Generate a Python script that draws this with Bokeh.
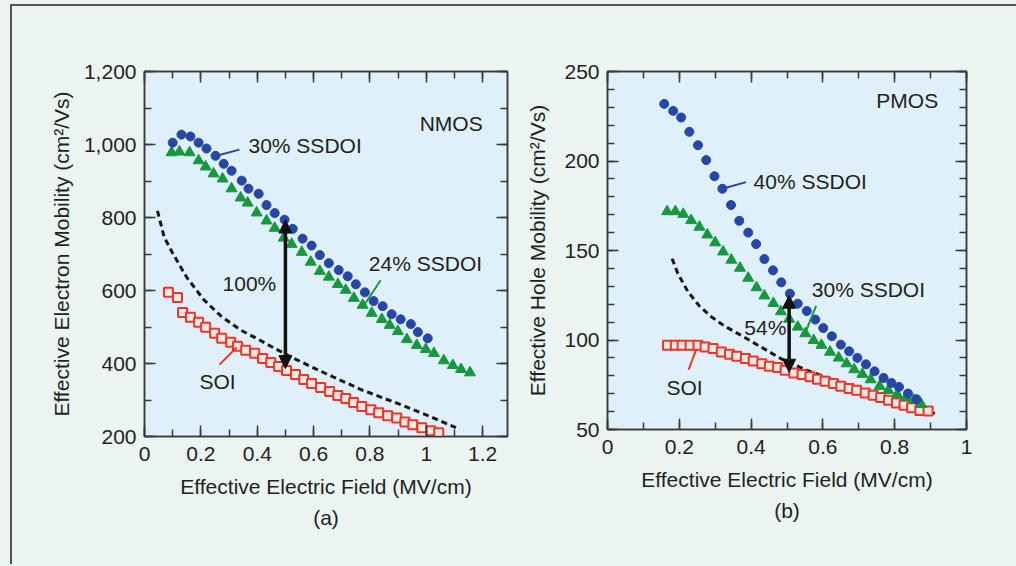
from bokeh.plotting import figure
from bokeh.models import Range1d, LinearAxis, FixedTicker, Label, Arrow, NormalHead, Title
from bokeh.embed import file_html
from bokeh.resources import INLINE

FONT = "Liberation Sans"
TXT = "#231f20"
BG = "#eaf4f0"
PLOT_BG = "#dff0fa"
BLUE = "#2747a6"
GREEN = "#16983f"
RED = "#ee3528"
FS = "21px"

# ---------------- NMOS (a) ----------------
n_ss30_x = [0.100, 0.131, 0.163, 0.192, 0.220, 0.252, 0.281, 0.309, 0.345, 0.369, 0.405, 0.433, 0.462, 0.497, 0.526,
            0.561, 0.593, 0.622, 0.654, 0.689, 0.721, 0.750, 0.782, 0.813, 0.845, 0.877, 0.909, 0.945, 0.970, 1.005]
n_ss30_y = [1005, 1027, 1022, 1005, 989, 969, 947, 928, 901, 879, 865, 834, 812, 794, 769,
            742, 723, 697, 675, 656, 639, 617, 595, 571, 557, 535, 521, 508, 486, 469]
n_ss24_x = [0.096, 0.124, 0.160, 0.192, 0.217, 0.245, 0.277, 0.309, 0.341, 0.366, 0.398, 0.433, 0.462, 0.494, 0.522,
            0.558, 0.590, 0.622, 0.654, 0.686, 0.714, 0.743, 0.774, 0.806, 0.842, 0.870, 0.899, 0.931, 0.966, 0.998,
            1.027, 1.062, 1.094, 1.123, 1.155]
n_ss24_y = [978, 980, 978, 956, 939, 920, 906, 879, 854, 840, 813, 791, 771, 744, 727,
            705, 678, 653, 637, 617, 601, 579, 560, 538, 521, 505, 488, 466, 450, 439,
            428, 408, 395, 384, 375]
n_soi_x = [0.085, 0.117, 0.135, 0.163, 0.192, 0.217, 0.249, 0.274, 0.306, 0.330, 0.359, 0.391, 0.419, 0.448, 0.476,
           0.504, 0.536, 0.565, 0.593, 0.625, 0.657, 0.686, 0.714, 0.742, 0.771, 0.803, 0.831, 0.863, 0.895, 0.924,
           0.952, 0.984, 1.016, 1.044]
n_soi_y = [595, 581, 540, 527, 513, 499, 483, 469, 458, 447, 436, 428, 414, 403, 392,
           381, 370, 356, 345, 334, 323, 312, 304, 293, 282, 273, 265, 257, 251, 240,
           232, 224, 216, 210]
n_ref_x = [0.046, 0.070, 0.100, 0.150, 0.210, 0.270, 0.340, 0.400, 0.460, 0.530, 0.600, 0.670, 0.770, 0.900, 1.010, 1.105]
n_ref_y = [818, 746, 702, 636, 575, 531, 492, 468, 442, 414, 388, 363, 328, 290, 256, 224]

n_xticks = [0, 0.2, 0.4, 0.6, 0.8, 1.0, 1.2]
n_xlabels = ["0", "0.2", "0.4", "0.6", "0.8", "1", "1.2"]
n_yticks = [200, 400, 600, 800, 1000, 1200]
n_ylabels = ["200", "400", "600", "800", "1,000", "1,200"]

# ---------------- PMOS (b) ----------------
p_ss40_x = [0.158, 0.183, 0.205, 0.228, 0.252, 0.275, 0.298, 0.320, 0.344, 0.367, 0.392, 0.414, 0.437, 0.461, 0.484,
            0.508, 0.530, 0.555, 0.579, 0.601, 0.625, 0.650, 0.673, 0.696, 0.720, 0.744, 0.769, 0.791, 0.812, 0.837, 0.861]
p_ss40_y = [231.9, 228.0, 224.3, 216.3, 208.8, 200.5, 191.5, 184.5, 175.4, 166.6, 160.0, 153.6, 145.2, 138.9, 132.2,
            125.9, 120.3, 116.2, 111.4, 106.7, 102.1, 97.4, 93.7, 90.0, 86.4, 82.5, 78.8, 76.0, 73.8, 70.1, 66.9]
p_ss30_x = [0.166, 0.189, 0.211, 0.233, 0.256, 0.278, 0.300, 0.322, 0.345, 0.369, 0.392, 0.415, 0.437, 0.462, 0.483,
            0.506, 0.530, 0.551, 0.574, 0.596, 0.620, 0.644, 0.666, 0.687, 0.710, 0.733, 0.758, 0.782, 0.807, 0.832,
            0.854, 0.874]
p_ss30_y = [171.8, 171.8, 170.3, 166.8, 163.1, 158.8, 154.4, 149.3, 144.7, 140.2, 134.6, 129.3, 124.7, 120.5, 115.9,
            111.7, 107.3, 103.6, 99.8, 97.1, 93.3, 90.0, 86.8, 83.5, 80.9, 77.9, 74.2, 71.9, 69.7, 67.9,
            66.4, 64.0]
p_soi_x = [0.167, 0.189, 0.208, 0.230, 0.252, 0.272, 0.294, 0.317, 0.340, 0.360, 0.384, 0.406, 0.430, 0.451, 0.474,
           0.495, 0.519, 0.542, 0.564, 0.585, 0.606, 0.629, 0.650, 0.673, 0.694, 0.718, 0.740, 0.761, 0.783, 0.805,
           0.826, 0.847, 0.870, 0.893]
p_soi_y = [97.1, 97.1, 97.1, 97.1, 97.0, 96.1, 95.2, 93.3, 92.0, 90.9, 89.6, 88.3, 86.8, 85.3, 84.6,
           83.1, 81.6, 80.7, 79.4, 78.1, 77.0, 75.7, 74.2, 72.9, 71.9, 70.4, 69.1, 67.9, 66.4, 64.8,
           63.6, 62.1, 60.6, 60.4]
p_ref_x = [0.180, 0.196, 0.224, 0.256, 0.289, 0.326, 0.372, 0.419, 0.483, 0.550, 0.631, 0.724, 0.817, 0.914]
p_ref_y = [145.4, 137.1, 127.0, 119.0, 113.0, 107.8, 102.6, 97.1, 89.6, 83.5, 77.5, 71.0, 63.6, 58.9]

p_xticks = [0, 0.2, 0.4, 0.6, 0.8, 1.0]
p_xlabels = ["0", "0.2", "0.4", "0.6", "0.8", "1"]
p_yticks = [50, 100, 150, 200, 250]
p_ylabels = ["50", "100", "150", "200", "250"]


def style_axis(ax, ticker, labels=None, standoff=8):
    ax.ticker = ticker
    ax.axis_line_color = "#3a3a3a"
    ax.axis_line_width = 1.5
    ax.major_tick_line_color = "#3a3a3a"
    ax.minor_tick_line_color = "#3a3a3a"
    ax.major_tick_line_width = 1.5
    ax.minor_tick_line_width = 1.5
    ax.major_tick_in = 11
    ax.major_tick_out = 0
    ax.minor_tick_in = 7
    ax.minor_tick_out = 0
    ax.major_label_text_font = FONT
    ax.major_label_text_font_size = FS
    ax.major_label_text_color = TXT
    ax.major_label_standoff = standoff
    ax.axis_label_text_font = FONT
    ax.axis_label_text_font_size = FS
    ax.axis_label_text_font_style = "normal"
    ax.axis_label_text_color = TXT
    if labels is not None:
        ax.major_label_overrides = labels


def make_panel(width, mb_left, mb_right, frame_h, xr, yr, xticks, xlabels, xminor, yticks, ylabels, yminor,
               xlabel, ylabel, caption, ylab_standoff):
    height = 554
    p = figure(width=width, height=height, x_range=Range1d(*xr), y_range=Range1d(*yr),
               output_backend="svg", toolbar_location=None,
               min_border_left=mb_left, min_border_right=mb_right,
               min_border_top=65, min_border_bottom=height - 65 - frame_h)
    p.background_fill_color = PLOT_BG
    p.border_fill_color = BG
    p.outline_line_color = "#3a3a3a"
    p.outline_line_width = 1.5
    p.xgrid.grid_line_color = None
    p.ygrid.grid_line_color = None

    xt = FixedTicker(ticks=xticks, minor_ticks=xminor)
    yt = FixedTicker(ticks=yticks, minor_ticks=yminor)
    style_axis(p.xaxis[0], xt, dict(zip(xticks, xlabels)), standoff=10)
    style_axis(p.yaxis[0], yt, dict(zip(yticks, ylabels)), standoff=8)
    p.xaxis[0].axis_label = xlabel
    p.xaxis[0].axis_label_standoff = 11
    p.yaxis[0].axis_label = ylabel
    p.yaxis[0].axis_label_standoff = ylab_standoff

    top = LinearAxis()
    style_axis(top, FixedTicker(ticks=xticks, minor_ticks=xminor), {t: "" for t in xticks}, standoff=0)
    p.add_layout(top, "above")
    right = LinearAxis()
    style_axis(right, FixedTicker(ticks=yticks, minor_ticks=yminor), {t: "" for t in yticks}, standoff=0)
    p.add_layout(right, "right")

    cap = Title(text=caption, align="center", text_font=FONT, text_font_size=FS,
                text_font_style="normal", text_color=TXT, standoff=6)
    p.add_layout(cap, "below")
    return p


def add_label(p, x, y, text, align="left"):
    p.add_layout(Label(x=x, y=y, text=text, text_font=FONT, text_font_size=FS, text_color=TXT,
                       text_align=align, text_baseline="middle"))


def add_series(p, bx, by, gx, gy, rx, ry, kx, ky):
    p.line(kx, ky, line_color="#161616", line_width=3, line_dash="6 4")
    p.scatter(rx, ry, marker="square", size=9, fill_color="#fde9e6", line_color=RED, line_width=2)
    p.scatter(gx, gy, marker="triangle", size=11, fill_color=GREEN, line_color=GREEN)
    p.scatter(bx, by, marker="circle", size=9, fill_color=BLUE, line_color=BLUE)


def add_arrow(p, x, y0, y1):
    p.add_layout(Arrow(start=NormalHead(size=13, fill_color="#111111", line_color="#111111"),
                       end=NormalHead(size=13, fill_color="#111111", line_color="#111111"),
                       x_start=x, y_start=y0, x_end=x, y_end=y1,
                       line_color="#111111", line_width=3.5))


# ----- left panel -----
p1 = make_panel(511, 132, 16, 365, (0, 1.288), (200, 1200),
                n_xticks, n_xlabels, [i / 10 for i in range(13)],
                n_yticks, n_ylabels, list(range(200, 1201, 100)),
                "Effective Electric Field (MV/cm)", "Effective Electron Mobility (cm²/Vs)", "(a)", 8)
add_series(p1, n_ss30_x, n_ss30_y, n_ss24_x, n_ss24_y, n_soi_x, n_soi_y, n_ref_x, n_ref_y)
add_arrow(p1, 0.5, 386, 793)
p1.segment(x0=[0.256, 0.774, 0.266], y0=[969, 554, 397], x1=[0.337, 0.838, 0.327], y1=[986, 628, 444],
           line_color=[BLUE, GREEN, RED], line_width=2)
add_label(p1, 1.2, 1057, "NMOS", "right")
add_label(p1, 0.369, 997, "30% SSDOI")
add_label(p1, 0.796, 675, "24% SSDOI")
add_label(p1, 0.277, 620, "100%")
add_label(p1, 0.195, 352, "SOI")

# ----- right panel -----
p2 = make_panel(489, 83, 46, 358, (0, 1), (50, 250),
                p_xticks, p_xlabels, [i / 10 for i in range(11)],
                p_yticks, p_ylabels, list(range(50, 251, 10)),
                "Effective Electric Field (MV/cm)", "Effective Hole Mobility (cm²/Vs)", "(b)", 12)
add_series(p2, p_ss40_x, p_ss40_y, p_ss30_x, p_ss30_y, p_soi_x, p_soi_y, p_ref_x, p_ref_y)
add_arrow(p2, 0.506, 82, 125)
p2.segment(x0=[0.320, 0.548, 0.226], y0=[184.5, 102.6, 83.5], x1=[0.386, 0.581, 0.247], y1=[188.2, 119.0, 94.6],
           line_color=[BLUE, GREEN, RED], line_width=2)
add_label(p2, 0.921, 234, "PMOS", "right")
add_label(p2, 0.407, 188.6, "40% SSDOI")
add_label(p2, 0.569, 128.1, "30% SSDOI")
add_label(p2, 0.381, 107.1, "54%")
add_label(p2, 0.164, 73.6, "SOI")

# two independent roots placed side by side (no frame alignment between them)
html = file_html([p1, p2], INLINE, title="SSDOI mobility")
style = ("<style>html,body{background:%s;height:auto;}"
         "body{margin:4px 0 0 10px;border-top:2px solid #555;border-left:2px solid #555;"
         "min-height:560px;box-sizing:border-box;display:flex;flex-direction:row;align-items:flex-start;}"
         "</style></head>" % BG)
html = html.replace("</head>", style, 1)
open("out.html", "w").write(html)
